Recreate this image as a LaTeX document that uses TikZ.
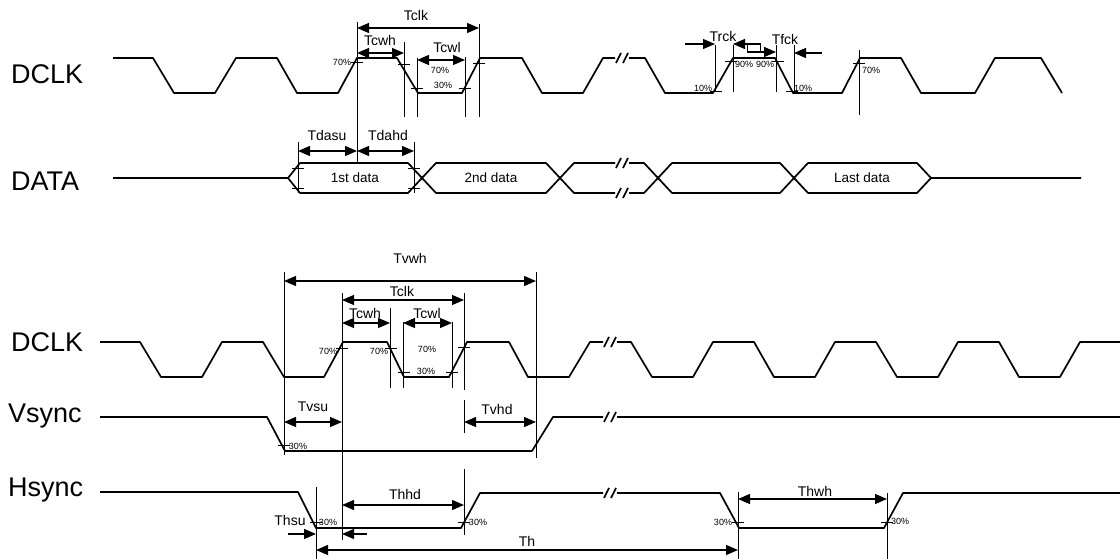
\documentclass[tikz,border=0pt]{standalone}
\usepackage{fontspec}
\setmainfont{Liberation Sans}
\usetikzlibrary{arrows.meta}

\begin{document}
\begin{tikzpicture}[x=1pt,y=-1pt]
\tikzset{font=\fontsize{14}{16}\selectfont}
\tikzset{wave/.style={line width=1.7pt, line join=round}}
\tikzset{guide/.style={line width=1pt}}
\tikzset{tick/.style={line width=0.9pt}}
\tikzset{dim/.style={line width=1.3pt, {Triangle[length=12pt,width=10pt]}-{Triangle[length=12pt,width=10pt]}}}
\tikzset{push/.style={line width=1.3pt, -{Triangle[length=12pt,width=10pt]}}}
\tikzset{pct/.style={font=\fontsize{9}{10}\selectfont, inner sep=0pt}}
\tikzset{sig/.style={font=\fontsize{27}{30}\selectfont, anchor=west, inner sep=0pt}}
\useasboundingbox (0,0) rectangle (1120,559);

% signal names
\node[sig] (dclkA) at (11,74) {DCLK};
\node[sig] (data) at (11,181) {DATA};
\node[sig] (dclkB) at (11,342) {DCLK};
\node[sig] (vsync) at (8,416) {Vsync};
\node[sig] (hsync) at (8,490) {Hsync};

% waveforms
\draw[wave] (113,58) -- (153,58) -- (174,93) -- (215,93) -- (236,58) -- (277,58) -- (297,93) -- (338,93) -- (357,58) -- (397,58) -- (418,93) -- (462,93) -- (480,58) -- (522,58) -- (542,93) -- (583,93) -- (603,58) -- (615,58);
\draw[wave] (629,58) -- (645,58) -- (665,93) -- (713,93) -- (733,58) -- (775,58) -- (793,93) -- (842,93) -- (860,58) -- (901,58) -- (921,93) -- (975,93) -- (995,58) -- (1041,58) -- (1062,93);
\draw[wave] (113,178) -- (288,178) -- (300,163) -- (408,163) -- (436,193) -- (546,193) -- (574,163) -- (615,163);
\draw[wave] (288,178) -- (300,193) -- (408,193) -- (436,163) -- (546,163) -- (574,193) -- (615,193);
\draw[wave] (629,163) -- (644,163) -- (672,193) -- (780,193) -- (808,163) -- (917,163) -- (931,178) -- (1081,178);
\draw[wave] (629,193) -- (644,193) -- (672,163) -- (780,163) -- (808,193) -- (917,193) -- (931,178);
\draw[wave] (100,342) -- (140,342) -- (161,377) -- (202,377) -- (222,342) -- (263,342) -- (284,377) -- (324,377) -- (343,342) -- (387,342) -- (404,377) -- (449,377) -- (467,342) -- (509,342) -- (528,377) -- (569,377) -- (590,342) -- (603,342);
\draw[wave] (617,342) -- (631,342) -- (652,377) -- (693,377) -- (713,342) -- (754,342) -- (774,377) -- (815,377) -- (835,342) -- (876,342) -- (897,377) -- (938,377) -- (958,342) -- (999,342) -- (1019,377) -- (1060,377) -- (1080,342) -- (1120,342);
\draw[wave] (100,417) -- (267,417) -- (285,451) -- (532,451) -- (553,417) -- (603,417);
\draw[wave] (617,417) -- (1120,417);
\draw[wave] (100,492) -- (298,492) -- (316,528) -- (461,528) -- (480,493) -- (603,493);
\draw[wave] (617,493) -- (720,493) -- (739,528) -- (884,528) -- (903,493) -- (1120,493);

% break marks
\foreach \bx/\by in {622/58, 622/163, 622/193, 610/342, 610/417, 610/493}
  \draw[wave] (\bx-6,\by+5) -- (\bx-1,\by-5) (\bx+1,\by+5) -- (\bx+6,\by-5);

% reference lines and level ticks
\foreach \gx/\ga/\gb in {357/22/163, 479/24/117, 404/42/117, 417/58/117, 465/57/117, 715/45/92, 733/45/92, 776/45/92, 794/45/92, 859/50/115, 298/142/193, 414/142/193, 284/272/455, 536/272/458, 342/293/540, 464/293/390, 390/308/388, 403/322/388, 452/322/388, 464/400/433, 464/469/535, 316/487/559, 738/492/559, 887/493/559}
  \draw[guide] (\gx,\ga) -- (\gx,\gb);
\foreach \tx/\ty in {357/62, 404/64, 417/88, 465/88, 479/63, 716/91, 731/61, 778/61, 792/91, 859/63, 298/168, 298/188, 414/168, 414/188, 342/348, 391/348, 404/372, 452/372, 464/347, 284/445, 316/522, 464/522, 738/522, 887/522}
  \draw[tick] (\tx-6,\ty) -- (\tx+6,\ty);

% timing arrows
\draw[dim] (357,28) -- (479,28);
\draw[dim] (357,53) -- (404,53);
\draw[dim] (417,60) -- (465,60);
\draw[dim] (298,151) -- (357,151);
\draw[dim] (357,151) -- (414,151);
\draw[dim] (284,281) -- (536,281);
\draw[dim] (342,300) -- (464,300);
\draw[dim] (342,323) -- (390,323);
\draw[dim] (403,323) -- (452,323);
\draw[dim] (284,422) -- (342,422);
\draw[dim] (464,422) -- (536,422);
\draw[dim] (342,505) -- (464,505);
\draw[dim] (738,499) -- (887,499);
\draw[dim] (316,550) -- (738,550);
\draw[push] (685,44) -- (715,44);
\draw[push] (760,44) -- (733,44);
\draw[push] (747,52) -- (776,52);
\draw[guide] (747,44) rectangle (760,52);
\draw[push] (822,53) -- (794,53);
\draw[push] (288,534) -- (316,534);
\draw[push] (367,534) -- (342,534);

% timing labels
\node (tclkA) at (416,15) {Tclk};
\node (tcwhA) at (380,40) {Tcwh};
\node (tcwlA) at (447,47) {Tcwl};
\node (trck) at (723,36) {Trck};
\node (tfck) at (785,39) {Tfck};
\node (tdasu) at (327,135) {Tdasu};
\node (tdahd) at (388,135) {Tdahd};
\node (tvwh) at (410,258) {Tvwh};
\node (tclkB) at (402,291) {Tclk};
\node (tcwhB) at (365,313) {Tcwh};
\node (tcwlB) at (427,313) {Tcwl};
\node (tvsu) at (313,407) {Tvsu};
\node (tvhd) at (497,409) {Tvhd};
\node (thhd) at (405,494) {Thhd};
\node (thsu) at (290,520) {Thsu};
\node (th) at (527,541) {Th};
\node (thwh) at (815,491) {Thwh};

% data labels
\node[font=\fontsize{13.5}{15}\selectfont] (dfirst) at (355,178) {1st data};
\node[font=\fontsize{13.5}{15}\selectfont] (dsecond) at (491,178) {2nd data};
\node[font=\fontsize{13.5}{15}\selectfont] (dlast) at (862,178) {Last data};

% level labels
\node[pct] (pA) at (342,62) {70\%};
\node[pct] (pB) at (440,70) {70\%};
\node[pct] (pC) at (443,85) {30\%};
\node[pct] (pD) at (703,88) {10\%};
\node[pct] (pE) at (744,64) {90\%};
\node[pct] (pF) at (765,64) {90\%};
\node[pct] (pG) at (803,88) {10\%};
\node[pct] (pH) at (871,70) {70\%};
\node[pct] (pI) at (328,351) {70\%};
\node[pct] (pJ) at (379,351) {70\%};
\node[pct] (pK) at (427,349) {70\%};
\node[pct] (pL) at (426,371) {30\%};
\node[pct] (pM) at (298,446) {30\%};
\node[pct] (pN) at (328,522) {30\%};
\node[pct] (pO) at (478,522) {30\%};
\node[pct] (pP) at (723,522) {30\%};
\node[pct] (pQ) at (900,521) {30\%};
\end{tikzpicture}
\end{document}
